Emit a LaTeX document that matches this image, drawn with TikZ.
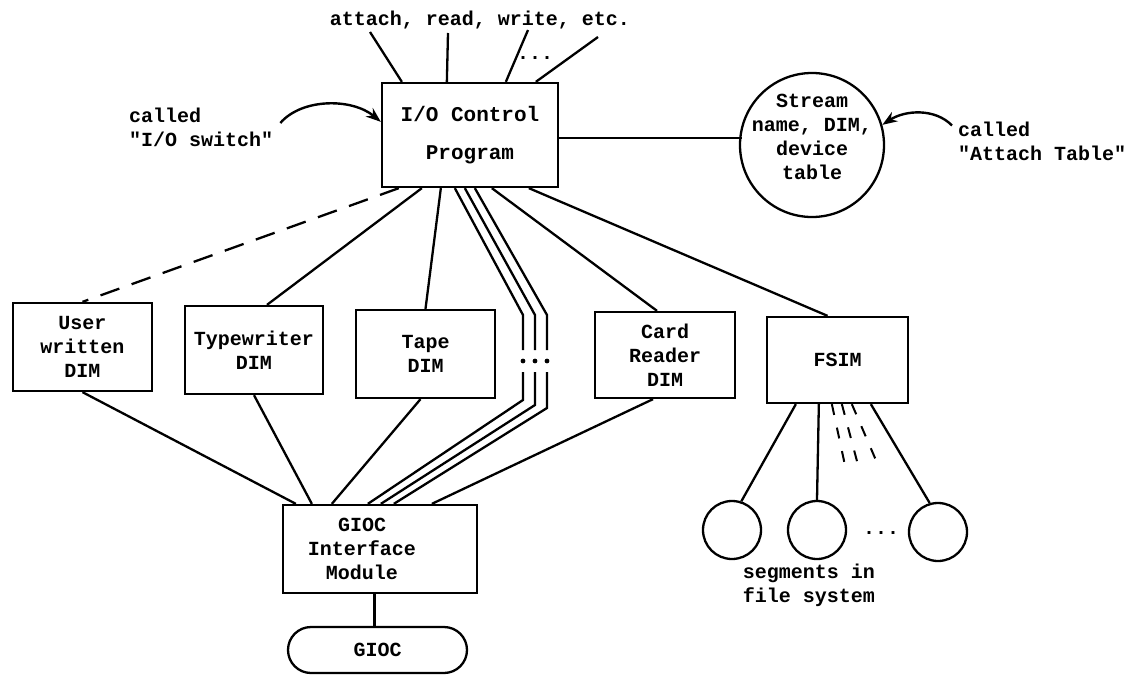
\documentclass[tikz,border=0pt]{standalone}
\usepackage{fontspec}
\setmonofont{Liberation Mono}
\usetikzlibrary{arrows.meta,calc}
\begin{document}
\begin{tikzpicture}[x=1pt,y=-1pt,line width=2.3pt,
  font=\ttfamily\bfseries\fontsize{20}{24}\selectfont,
  box/.style={draw,rectangle,inner sep=0pt,align=center},
  seg/.style={draw,circle,minimum size=58pt,inner sep=0pt},
  txt/.style={inner sep=0pt,align=center},
  arr/.style={-{Stealth[length=15pt,width=11pt]},line width=2.4pt},
  dimline/.style={dash pattern=on 20pt off 13pt}]
\useasboundingbox (0,0) rectangle (1135,677);
% main nodes
\node[box,minimum width=176pt,minimum height=104pt,font=\ttfamily\bfseries\fontsize{21}{24}\selectfont] (io) at (470,135) {I/O Control\\[14pt]Program};
\node[txt] (ops) at (480,20) {attach, read, write, etc.};
\node[txt] (topdots) at (535,58) {...};
\node[draw,circle,minimum size=144pt,inner sep=0pt] (st) at (812,145) {};
\node[txt] (sttxt) at (812,137) {Stream\\name, DIM,\\device\\table};
\node[txt,align=left,anchor=west] (sw) at (128,127) {called\\"I/O switch"};
\node[txt,align=left,anchor=west] (atl) at (957,141) {called\\"Attach Table"};
% DIM boxes
\node[box,minimum width=139pt,minimum height=88pt] (user) at (82.5,347) {User\\written\\DIM};
\node[box,minimum width=138pt,minimum height=88pt] (tw) at (254,350) {Typewriter\\DIM};
\node[box,minimum width=139pt,minimum height=88pt] (tape) at (425.5,354) {Tape\\DIM};
\node[box,minimum width=140pt,minimum height=86pt] (card) at (665,355) {Card\\Reader\\DIM};
\node[box,minimum width=141pt,minimum height=86pt] (fsim) at (837.5,360) {FSIM};
% GIOC
\node[box,minimum width=194pt,minimum height=88pt] (gim) at (380,549) {};
\node[txt] (gimtxt) at (362,549) {GIOC\\Interface\\Module};
\node[draw,rectangle,rounded corners=23pt,minimum width=179pt,minimum height=46pt,inner sep=0pt] (pill) at (377.5,650) {GIOC};
% segments
\node[seg] (c1) at (732,530) {};
\node[seg] (c2) at (817,530) {};
\node[seg] (c3) at (938,532) {};
\node[txt] (sdots) at (881,533) {...};
\node[txt,align=left] (segtxt) at (809,585) {segments in\\file system};
% coordinates
\coordinate (t1) at (370,32);
\coordinate (t2) at (448,33);
\coordinate (t3) at (528,30);
\coordinate (t4) at (598,37);
% top lines
\draw (t1) -- ($(io.north west)+(21,0)$);
\draw (t2) -- ($(io.north west)+(66,0)$);
\draw (t3) -- ($(io.north west)+(125,0)$);
\draw (t4) -- ($(io.north west)+(155,0)$);
% arrows
\draw[arr] ($(sw.east)+(6,-4)$) .. controls (302,98) and (352,98) .. ($(io.north west)+(0,40)$);
\draw[arr] ($(atl.north west)+(-5,5)$) .. controls (935,108) and (905,110) .. (st.16);
% io to table
\draw ($(io.east)+(0,3)$) -- ($(io.east)+(183,3)$);
% io to DIMs
\draw[dimline] ($(io.south west)+(18,0)$) -- (user.north);
\draw ($(io.south west)+(41,0)$) -- ($(tw.north)+(13,0)$);
\draw ($(io.south west)+(60,0)$) -- (tape.north);
\draw ($(io.south west)+(111,0)$) -- ($(card.north)+(-8,0)$);
\draw ($(io.south west)+(148,0)$) -- ($(fsim.north)+(-10,0)$);
% triple path
\foreach \a/\b/\c/\d in {74/523/400/86, 84/535/405/99, 94/547/408/112}{
  \draw[line join=miter] ($(io.south west)+(\a,0)$) -- (\b,315) -- (\b,350);
  \draw[line join=miter] (\b,372) -- (\b,\c) -- ($(gim.north west)+(\d,0)$);
  \fill (\b,361) circle (2.4pt);
}
% DIMs to GIOC
\draw (user.south) -- ($(gim.north west)+(14,0)$);
\draw (tw.south) -- ($(gim.north west)+(30,0)$);
\draw ($(tape.south)+(-5,0)$) -- ($(gim.north west)+(50,0)$);
\draw ($(card.south)+(-12,0)$) -- ($(gim.north west)+(150,0)$);
\draw[line width=3pt] ($(gim.south)+(-6,0)$) -- ($(pill.north)+(-3.5,0)$);
% FSIM to segments
\draw ($(fsim.south west)+(30,0)$) -- (c1.72);
\draw ($(fsim.south west)+(53,0)$) -- (c2.north);
\draw ($(fsim.south west)+(105,0)$) -- (c3.106);
\draw[dash pattern=on 11pt off 13pt,line width=2pt] ($(fsim.south west)+(66,0)$) -- (846,470);
\draw[dash pattern=on 11pt off 13pt,line width=2pt] ($(fsim.south west)+(76,0)$) -- (858,465);
\draw[dash pattern=on 11pt off 13pt,line width=2pt] ($(fsim.south west)+(86,0)$) -- (878,465);
\end{tikzpicture}
\end{document}
